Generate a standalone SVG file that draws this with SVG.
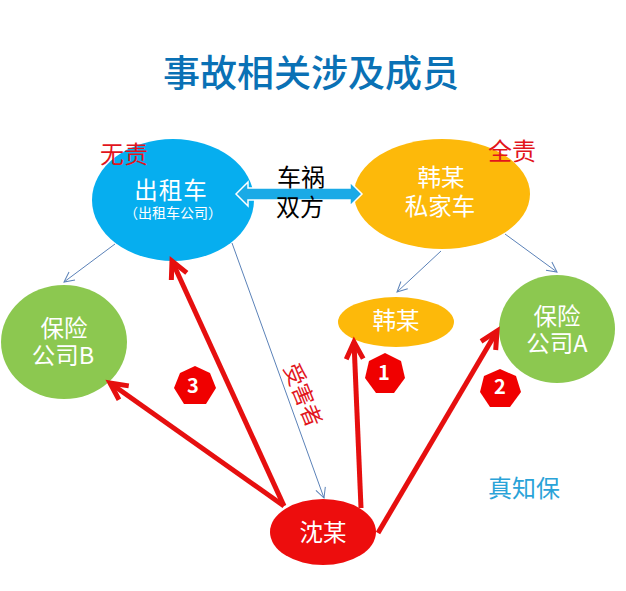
<svg xmlns="http://www.w3.org/2000/svg" width="626" height="591" viewBox="0 0 626 591">
<style>
text{font-family:"Noto Sans CJK SC","Liberation Sans",sans-serif;text-anchor:middle}
.w{fill:#fff;font-size:23.500px}
.t{fill:#000;font-size:24px}
.r{fill:#e2141c;font-size:24px}
.thin{fill:none;stroke:#5b82b8;stroke-width:1}
.red{fill:none;stroke:#e60f0f;stroke-width:5}
.hep{fill:#f00000}
.n{fill:#fff;font-size:20px;font-weight:700}
</style>
<defs>
<marker id="a" markerUnits="userSpaceOnUse" markerWidth="14" markerHeight="14" refX="11" refY="6" orient="auto"><path d="M1 1L11 6L1 11" fill="none" stroke="#5b82b8"/></marker>
<marker id="b" markerUnits="userSpaceOnUse" markerWidth="26" markerHeight="26" refX="20" refY="11" orient="auto"><path d="M3 2.500L20 11L3 19.500" fill="none" stroke="#e60f0f" stroke-width="5"/></marker>
</defs>
<rect width="626" height="591" fill="#fff"/>
<text x="311" y="87" font-size="37" font-weight="500" style="fill:#0a71b5">事故相关涉及成员</text>
<g id="taxi"><ellipse cx="173" cy="200" rx="81" ry="61" fill="#06aeef"/><text class="w" x="171" y="199" letter-spacing="1">出租车</text><text x="173" y="218" font-size="14" fill="#fff">（出租车公司）</text></g>
<g id="private-car"><ellipse cx="442" cy="194" rx="88" ry="55" fill="#fdb90a"/><text class="w"><tspan x="441" y="186">韩某</tspan><tspan x="440" y="215">私家车</tspan></text></g>
<g id="insurer-b"><ellipse cx="64" cy="342" rx="63" ry="57" fill="#8cc850"/><text class="w"><tspan x="64" y="337">保险</tspan><tspan x="63" y="364">公司B</tspan></text></g>
<g id="insurer-a"><ellipse cx="557" cy="329" rx="58" ry="54" fill="#8cc850"/><text class="w"><tspan x="557" y="325">保险</tspan><tspan x="557" y="352">公司A</tspan></text></g>
<g id="han"><ellipse cx="396" cy="322" rx="58" ry="25" fill="#fdb90a"/><text class="w" x="396" y="329">韩某</text></g>
<g id="shen"><ellipse cx="323" cy="532" rx="53" ry="33" fill="#ed0d0d"/><text class="w" x="323" y="541">沈某</text></g>
<g id="connectors">
<path d="M236 194L248 182V188H350V182L362 194L350 206V200H248V206Z" fill="#1aaae6" stroke="#fff" stroke-width="1.500"/>
<line class="thin" x1="115" y1="244" x2="64" y2="282" marker-end="url(#a)"/>
<line class="thin" x1="232" y1="243" x2="324" y2="498" marker-end="url(#a)"/>
<line class="thin" x1="441" y1="251" x2="397" y2="292" marker-end="url(#a)"/>
<line class="thin" x1="505" y1="234" x2="557" y2="272" marker-end="url(#a)"/>
<line class="red" x1="284" y1="506" x2="172" y2="261" marker-end="url(#b)"/>
<line class="red" x1="284" y1="506" x2="110" y2="383" marker-end="url(#b)"/>
<line class="red" x1="361" y1="508" x2="354" y2="342" marker-end="url(#b)"/>
<line class="red" x1="378" y1="533" x2="497" y2="331" marker-end="url(#b)"/>
</g>
<g id="badge-1"><polygon class="hep" points="385,353 401,361 405,378 394,393 376,393 365,378 369,361"/><text class="n" x="384" y="380">1</text></g>
<g id="badge-2"><polygon class="hep" points="500,369 516,376 521,392 510,407 490,407 480,392 484,376"/><text class="n" x="500" y="394">2</text></g>
<g id="badge-3"><polygon class="hep" points="195,366 210,373 216,388 206,404 184,404 174,388 180,373"/><text class="n" x="193" y="393">3</text></g>
<text class="t"><tspan x="301" y="186">车祸</tspan><tspan x="300" y="216">双方</tspan></text>
<text class="r" x="124" y="163">无责</text>
<text class="r" x="512" y="160">全责</text>
<text class="r" transform="translate(303 395) rotate(68)" style="font-size:22px" y="8">受害者</text>
<text x="524" y="497" font-size="24" fill="#2aa3d8">真知保</text>
</svg>
